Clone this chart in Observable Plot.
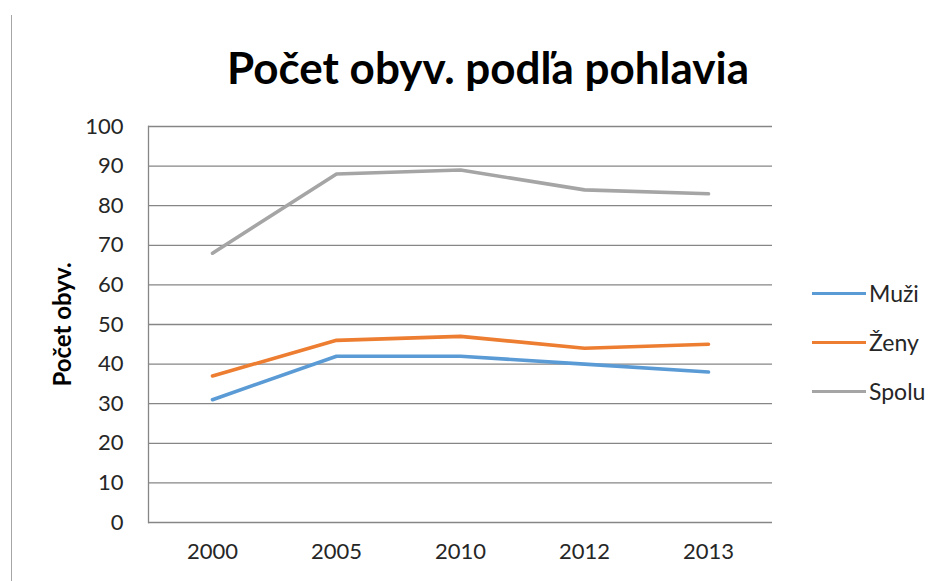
<!DOCTYPE html>
<html>
<head>
<meta charset="utf-8">
<script src="https://cdn.jsdelivr.net/npm/d3@7"></script>
<script src="https://cdn.jsdelivr.net/npm/@observablehq/plot@0.6"></script>
<style>
  html, body { margin: 0; padding: 0; background: #fff; }
  #wrap { position: relative; width: 950px; height: 581px; overflow: hidden; font-family: Lato, "Open Sans", sans-serif; }
  #border { position: absolute; left: 11px; top: 15px; bottom: 0; width: 1px; background: #a6a6a6; }
  #title { position: absolute; left: 0; top: 45px; width: 976px; text-align: center; font-weight: bold; font-size: 44px; line-height: 44px; color: #000; }
  #chart { position: absolute; left: 0; top: 0; }
  #legend { position: absolute; left: 812px; top: 0; }
  .item { position: absolute; left: 0; height: 30px; display: flex; align-items: center; white-space: nowrap; }
  .swatch { width: 54px; height: 3px; margin-right: 3px; }
  .lab { font-size: 23px; color: #262626; }
  svg text { fill: #262626; }
  g[aria-label="y-axis label"] text { font-weight: bold; font-size: 24px; fill: #000; }
</style>
</head>
<body>
<div id="wrap">
  <div id="border"></div>
  <div id="chart"></div>
  <div id="title"></div>
  <div id="legend"></div>
</div>
<script>
const titleText = "Počet obyv. podľa pohlavia";
const yLabel = "Počet obyv.";
const years = ["2000", "2005", "2010", "2012", "2013"];
const seriesNames = ["Muži", "Ženy", "Spolu"];
const muzi = [31, 42, 42, 40, 38];
const zeny = [37, 46, 47, 44, 45];
const spolu = [68, 88, 89, 84, 83];
const seriesColors = ["#5B9BD5", "#ED7D31", "#A5A5A5"];
const yTicks = [0, 10, 20, 30, 40, 50, 60, 70, 80, 90, 100];

const seriesValues = [muzi, zeny, spolu];
const rows = [];
seriesNames.forEach((s, i) => {
  years.forEach((yr, j) => rows.push({series: s, year: yr, value: seriesValues[i][j]}));
});

const chart = Plot.plot({
  width: 950,
  height: 581,
  marginLeft: 148,
  marginRight: 178,
  marginTop: 126,
  marginBottom: 59,
  style: {fontFamily: "Lato, 'Open Sans', sans-serif", fontSize: "22px", background: "transparent", overflow: "visible"},
  x: {type: "point", domain: years, padding: 0.5},
  y: {domain: [0, 100]},
  color: {domain: seriesNames, range: seriesColors},
  marks: [
    Plot.gridY(yTicks, {stroke: "#868686", strokeOpacity: 1, strokeWidth: 1.3}),
    Plot.frame({anchor: "left", stroke: "#868686", strokeWidth: 1.3}),
    Plot.axisY(yTicks, {tickSize: 0, tickPadding: 25, label: yLabel, labelArrow: "none", labelAnchor: "center", labelOffset: 95, fontSize: 22}),
    Plot.axisX({tickSize: 0, tickPadding: 21, label: null, fontSize: 22}),
    Plot.line(rows, {x: "year", y: "value", z: "series", stroke: "series", strokeWidth: 3.6, strokeLinecap: "round", strokeLinejoin: "round"})
  ]
});
document.getElementById("chart").appendChild(chart);
document.getElementById("title").textContent = titleText;

const legend = document.getElementById("legend");
const legendTops = [278, 327, 376];
seriesNames.forEach((s, i) => {
  const item = document.createElement("div");
  item.className = "item";
  item.style.top = legendTops[i] + "px";
  const sw = document.createElement("span");
  sw.className = "swatch";
  sw.style.background = seriesColors[i];
  const lab = document.createElement("span");
  lab.className = "lab";
  lab.textContent = s;
  item.appendChild(sw);
  item.appendChild(lab);
  legend.appendChild(item);
});
</script>
</body>
</html>
